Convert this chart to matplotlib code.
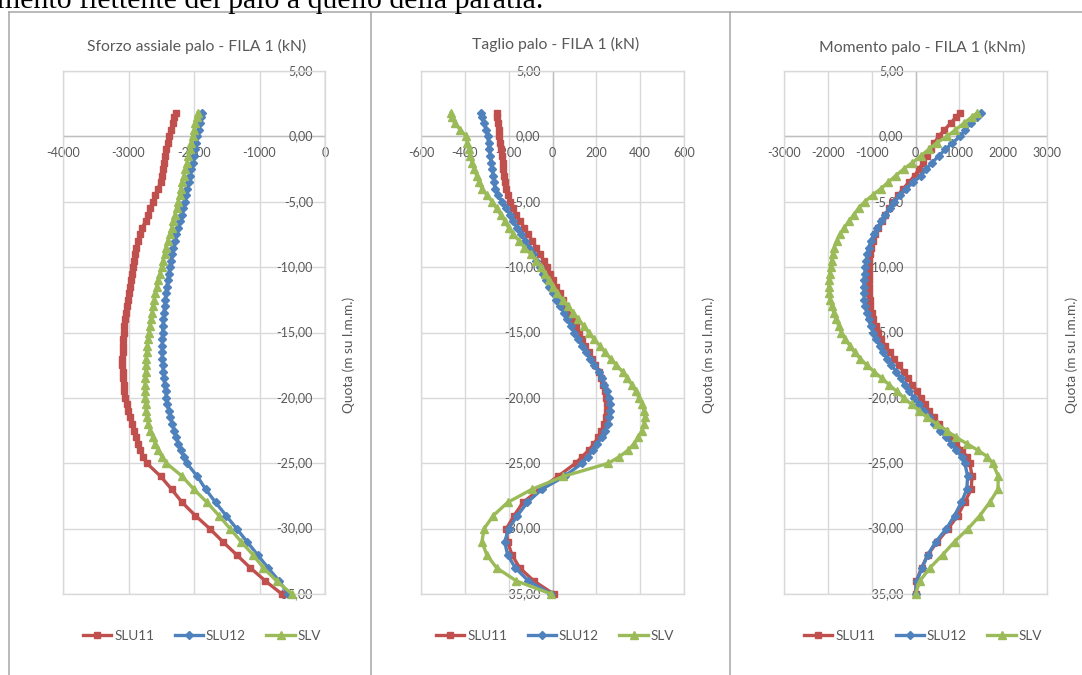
import matplotlib
matplotlib.use('Agg')
import matplotlib.pyplot as plt
from matplotlib.lines import Line2D
from matplotlib.transforms import offset_copy

W, H = 1082, 675

# quota (m su l.m.m.)
quota = [1.8, 1.5, 1.0, 0.5, 0.0, -0.5, -1.0, -1.5, -2.0, -2.5,
         -3.0, -3.5, -4.0, -4.5, -5.0, -5.5, -6.0, -6.5, -7.0, -7.5,
         -8.0, -8.5, -9.0, -9.5, -10.0, -10.5, -11.0, -11.5, -12.0, -12.5,
         -13.0, -13.5, -14.0, -14.5, -15.0, -15.5, -16.0, -16.5, -17.0, -17.5,
         -18.0, -18.5, -19.0, -19.5, -20.0, -20.5, -21.0, -21.5, -22.0, -22.5,
         -23.0, -23.5, -24.0, -24.5, -25.0, -26.0, -27.0, -28.0, -29.0, -30.0,
         -31.0, -32.0, -33.0, -34.0, -35.0]

sforzo_slu11 = [-2280, -2300, -2320, -2350, -2380, -2400, -2420, -2440, -2460, -2480,
                -2490, -2510, -2550, -2590, -2630, -2670, -2700, -2740, -2790, -2830,
                -2860, -2880, -2900, -2915, -2930, -2945, -2960, -2980, -3000, -3015,
                -3030, -3045, -3055, -3065, -3075, -3082, -3088, -3090, -3092, -3092,
                -3090, -3085, -3075, -3065, -3050, -3030, -3005, -2980, -2950, -2915,
                -2885, -2855, -2825, -2780, -2720, -2510, -2340, -2180, -1980, -1760,
                -1560, -1350, -1140, -910, -660]
sforzo_slu12 = [-1880, -1890, -1910, -1930, -1950, -1970, -1985, -2000, -2020, -2040,
                -2060, -2080, -2100, -2120, -2140, -2165, -2190, -2215, -2240, -2270,
                -2295, -2320, -2335, -2355, -2370, -2385, -2400, -2415, -2430, -2440,
                -2450, -2460, -2468, -2475, -2480, -2482, -2484, -2485, -2483, -2478,
                -2470, -2460, -2448, -2435, -2420, -2405, -2385, -2360, -2330, -2300,
                -2270, -2240, -2200, -2160, -2110, -1950, -1820, -1670, -1510, -1350,
                -1190, -1030, -870, -700, -560]
sforzo_slv = [-1940, -1955, -1980, -2000, -2020, -2045, -2065, -2085, -2105, -2130,
              -2155, -2180, -2200, -2220, -2240, -2265, -2290, -2315, -2340, -2370,
              -2400, -2430, -2450, -2472, -2494, -2520, -2545, -2570, -2590, -2608,
              -2625, -2640, -2657, -2672, -2687, -2698, -2710, -2720, -2728, -2734,
              -2738, -2742, -2745, -2748, -2748, -2740, -2728, -2715, -2695, -2665,
              -2630, -2590, -2545, -2490, -2420, -2180, -2000, -1800, -1620, -1450,
              -1280, -1100, -940, -740, -505]

taglio_slu11 = [-255, -253, -250, -246, -242, -238, -235, -231, -228, -224,
                -220, -216, -212, -204, -194, -180, -166, -148, -128, -110,
                -92, -75, -58, -40, -23, -10, 4, 18, 32, 46,
                60, 75, 90, 105, 120, 135, 150, 165, 180, 194,
                210, 222, 232, 240, 245, 248, 248, 244, 236, 223,
                208, 190, 165, 135, 105, 25, -60, -135, -175, -210,
                -205, -185, -150, -85, 5]
taglio_slu12 = [-325, -320, -312, -303, -296, -292, -288, -283, -279, -275,
                -271, -267, -262, -248, -231, -210, -194, -178, -162, -142,
                -124, -106, -90, -74, -59, -44, -29, -14, 2, 18,
                36, 52, 68, 84, 100, 117, 134, 151, 170, 190,
                210, 224, 237, 248, 256, 261, 263, 260, 252, 240,
                225, 205, 185, 160, 135, 55, -50, -115, -160, -200,
                -218, -205, -170, -110, -6]
taglio_slv = [-462, -458, -447, -420, -394, -388, -381, -375, -367, -357,
              -346, -336, -322, -298, -275, -255, -236, -216, -200, -178,
              -152, -128, -100, -75, -52, -35, -17, 0, 22, 46,
              70, 95, 118, 142, 165, 190, 215, 240, 265, 292,
              320, 342, 362, 380, 395, 408, 418, 422, 418, 408,
              392, 372, 345, 305, 255, 50, -95, -205, -270, -312,
              -322, -300, -255, -165, -6]

momento_slu11 = [1010, 930, 800, 660, 530, 430, 355, 265, 175, 80,
                 -20, -150, -280, -400, -505, -600, -690, -770, -845, -915,
                 -975, -1020, -1045, -1058, -1065, -1068, -1068, -1065, -1058, -1048,
                 -1030, -1000, -960, -910, -855, -780, -690, -590, -490, -385,
                 -270, -170, -70, 25, 115, 215, 315, 420, 540, 670,
                 800, 920, 1060, 1170, 1240, 1290, 1270, 1120, 965, 745,
                 500, 280, 140, 20, 0]
momento_slu12 = [1500, 1400, 1255, 1140, 1020, 840, 680, 530, 380, 250,
                 120, -50, -215, -350, -480, -590, -690, -780, -870, -950,
                 -1020, -1065, -1100, -1125, -1141, -1160, -1172, -1178, -1175, -1165,
                 -1145, -1110, -1065, -1020, -965, -895, -820, -740, -650, -550,
                 -440, -340, -240, -140, -40, 75, 190, 305, 430, 560,
                 700, 820, 930, 1050, 1125, 1190, 1170, 1045, 890, 705,
                 465, 280, 150, 30, 0]
momento_slv = [1407, 1290, 1103, 910, 722, 480, 300, 120, -70, -270,
               -450, -620, -790, -980, -1160, -1300, -1410, -1520, -1630, -1720,
               -1800, -1855, -1890, -1915, -1939, -1955, -1970, -1977, -1970, -1950,
               -1910, -1860, -1810, -1750, -1690, -1600, -1500, -1390, -1260, -1110,
               -940, -770, -600, -430, -266, -90, 90, 266, 490, 710,
               920, 1170, 1420, 1640, 1760, 1890, 1880, 1690, 1470, 1200,
               890, 620, 330, 100, 0]

serie = ['SLU11', 'SLU12', 'SLV']
colori = ['#c0504d', '#4f81bd', '#9bbb59']
marker = ['s', 'D', '^']
msize = [4.8, 4.2, 5.2]

quota_ticks = [5, 0, -5, -10, -15, -20, -25, -30, -35]

panels = [
    dict(title='Sforzo assiale palo - FILA 1 (kN)',
         data=[sforzo_slu11, sforzo_slu12, sforzo_slv],
         xticks=[-4000, -3000, -2000, -1000, 0],
         box=(63, 71, 325, 594), title_x=197, title_y=46, ylab_x=349, leg_x=202),
    dict(title='Taglio palo - FILA 1 (kN)',
         data=[taglio_slu11, taglio_slu12, taglio_slv],
         xticks=[-600, -400, -200, 0, 200, 400, 600],
         box=(421, 71, 684, 594), title_x=556, title_y=44, ylab_x=709, leg_x=555),
    dict(title='Momento palo - FILA 1 (kNm)',
         data=[momento_slu11, momento_slu12, momento_slv],
         xticks=[-3000, -2000, -1000, 0, 1000, 2000, 3000],
         box=(784, 71, 1047, 594), title_x=922, title_y=47, ylab_x=1072, leg_x=923),
]

plt.rcParams['font.family'] = ['Lato', 'DejaVu Sans']
txt = '#595959'
grid = '#d9d9d9'

fig = plt.figure(figsize=(W / 100, H / 100), dpi=100)
fig.patch.set_facecolor('white')

# testo del documento tagliato in alto
fig.text(-3 / W, 1 - 8 / H, 'mento flettente del palo a quello della paratia.',
         family='Liberation Serif', fontsize=21.5, color='black', ha='left', va='baseline')

# bordi dei riquadri
for xb in [9, 370.5, 729.5]:
    fig.add_artist(Line2D([xb / W, xb / W], [0, 1 - 11.5 / H], transform=fig.transFigure,
                          color='#a6a6a6', lw=1.1))
fig.add_artist(Line2D([9 / W, 1], [1 - 11.5 / H, 1 - 11.5 / H], transform=fig.transFigure,
                      color='#a6a6a6', lw=1.1))

for p in panels:
    x0, y0, x1, y1 = p['box']
    ax = fig.add_axes([x0 / W, 1 - y1 / H, (x1 - x0) / W, (y1 - y0) / H])
    ax.set_xlim(p['xticks'][0], p['xticks'][-1])
    ax.set_ylim(-35, 5)
    ax.set_xticks(p['xticks'])
    ax.set_yticks(quota_ticks)
    ax.tick_params(length=0, labelbottom=False, labelleft=False)
    ax.grid(True, color=grid, lw=1.0)
    ax.set_axisbelow(True)
    for s in ax.spines.values():
        s.set_color(grid)
        s.set_linewidth(1.0)
    ax.axhline(0, color='#bfbfbf', lw=1.0, zorder=1)
    ax.axvline(0, color='#bfbfbf', lw=1.0, zorder=1)

    # etichette assi sugli assi che si incrociano in 0
    tx = offset_copy(ax.transData, fig=fig, y=-17, units='dots')
    for v in p['xticks']:
        ax.text(v, 0, str(v), transform=tx, ha='center', va='center',
                fontsize=9, color=txt, zorder=1.5)
    ty = offset_copy(ax.transData, fig=fig, x=-12, units='dots')
    for v in quota_ticks:
        ax.text(0, v, f'{v:.2f}'.replace('.', ','), transform=ty, ha='right', va='center',
                fontsize=9, color=txt, zorder=1.5)

    for vals, nome, c, m, ms in zip(p['data'], serie, colori, marker, msize):
        ax.plot(vals, quota, color=c, lw=2.4, marker=m, ms=ms, mec=c, mfc=c,
                label=nome, clip_on=False, zorder=3)

    fig.text(p['title_x'] / W, 1 - p['title_y'] / H, p['title'], ha='center', va='center',
             fontsize=11.3, color=txt)
    fig.text(p['ylab_x'] / W, 1 - 355 / H, 'Quota (m su l.m.m.)', rotation=90,
             ha='center', va='center', fontsize=9.8, color=txt)

    ax.legend(loc='center', bbox_to_anchor=(p['leg_x'] / W, 1 - 636 / H),
              bbox_transform=fig.transFigure, ncol=3, frameon=False, fontsize=9.8,
              labelcolor=txt, handlelength=2.1, handletextpad=0.2, columnspacing=1.5)

fig.savefig('out.png', dpi=100)
